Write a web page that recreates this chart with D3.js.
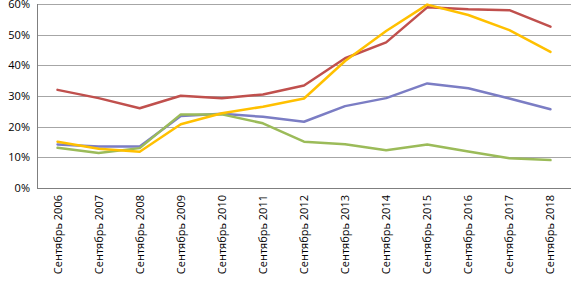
<!DOCTYPE html>
<html><head><meta charset="utf-8">
<script src="https://cdn.jsdelivr.net/npm/d3@7"></script>
<style>body{margin:0;background:#fff}svg{display:block}text{font-family:"Open Sans",sans-serif;font-size:11px;fill:#000}</style>
</head><body><svg id="c" width="572" height="286"></svg>
<script>
const categories = ["Сентябрь 2006","Сентябрь 2007","Сентябрь 2008","Сентябрь 2009","Сентябрь 2010","Сентябрь 2011","Сентябрь 2012","Сентябрь 2013","Сентябрь 2014","Сентябрь 2015","Сентябрь 2016","Сентябрь 2017","Сентябрь 2018"];
const seriesBlue   = [14.2, 13.5, 13.5, 23.5, 24.2, 23.2, 21.6, 26.7, 29.3, 34.1, 32.5, 29.2, 25.7];
const seriesRed    = [32.0, 29.3, 26.0, 30.1, 29.3, 30.5, 33.4, 42.3, 47.5, 58.9, 58.3, 58.0, 52.6];
const seriesGreen  = [13.1, 11.4, 13.0, 24.0, 24.0, 21.1, 15.1, 14.3, 12.3, 14.2, 11.9, 9.7, 9.1];
const seriesYellow = [15.1, 12.8, 11.8, 20.8, 24.4, 26.5, 29.2, 41.4, 51.2, 59.8, 56.4, 51.5, 44.4];
const yTicks = [0, 10, 20, 30, 40, 50, 60];

const svg = d3.select("#c");
const L = 37, R = 571, T = 4, B = 188;
const x = d3.scaleBand().domain(categories).range([L, R]);
const y = d3.scaleLinear().domain([0, 60]).range([B, T]);

// gridlines
svg.append("g").selectAll("line").data(yTicks.filter(d => d > 0)).join("line")
  .attr("x1", L).attr("x2", R).attr("y1", d => Math.round(y(d)) + 0.5).attr("y2", d => Math.round(y(d)) + 0.5)
  .attr("stroke", "#a6a6a6").attr("stroke-width", 1);

// y axis labels
svg.append("g").selectAll("text").data(yTicks).join("text")
  .attr("x", 30).attr("y", d => y(d) + 4).attr("text-anchor", "end").text(d => d + "%");

// x labels
svg.append("g").selectAll("text").data(categories).join("text")
  .attr("transform", d => `translate(${x(d) + x.bandwidth() / 2 + 4},195) rotate(-90)`)
  .attr("text-anchor", "end").text(d => d);

// lines
const line = d3.line().x((d, i) => x(categories[i]) + x.bandwidth() / 2).y(d => y(d));
const series = [[seriesBlue, "#7b7dc4"], [seriesRed, "#c0504d"], [seriesGreen, "#9bbb59"], [seriesYellow, "#ffc000"]];
// draw order: blue, red, green, yellow (Excel order)
series.forEach(([v, c]) => {
  svg.append("path").datum(v).attr("d", line).attr("fill", "none")
    .attr("stroke", c).attr("stroke-width", 2.5).attr("stroke-linejoin", "round").attr("stroke-linecap", "round");
});

// axes lines
svg.append("line").attr("x1", L + 0.5).attr("x2", L + 0.5).attr("y1", T).attr("y2", B).attr("stroke", "#7f7f7f");
svg.append("line").attr("x1", L).attr("x2", R).attr("y1", B + 0.5).attr("y2", B + 0.5).attr("stroke", "#7f7f7f");
</script></body></html>
